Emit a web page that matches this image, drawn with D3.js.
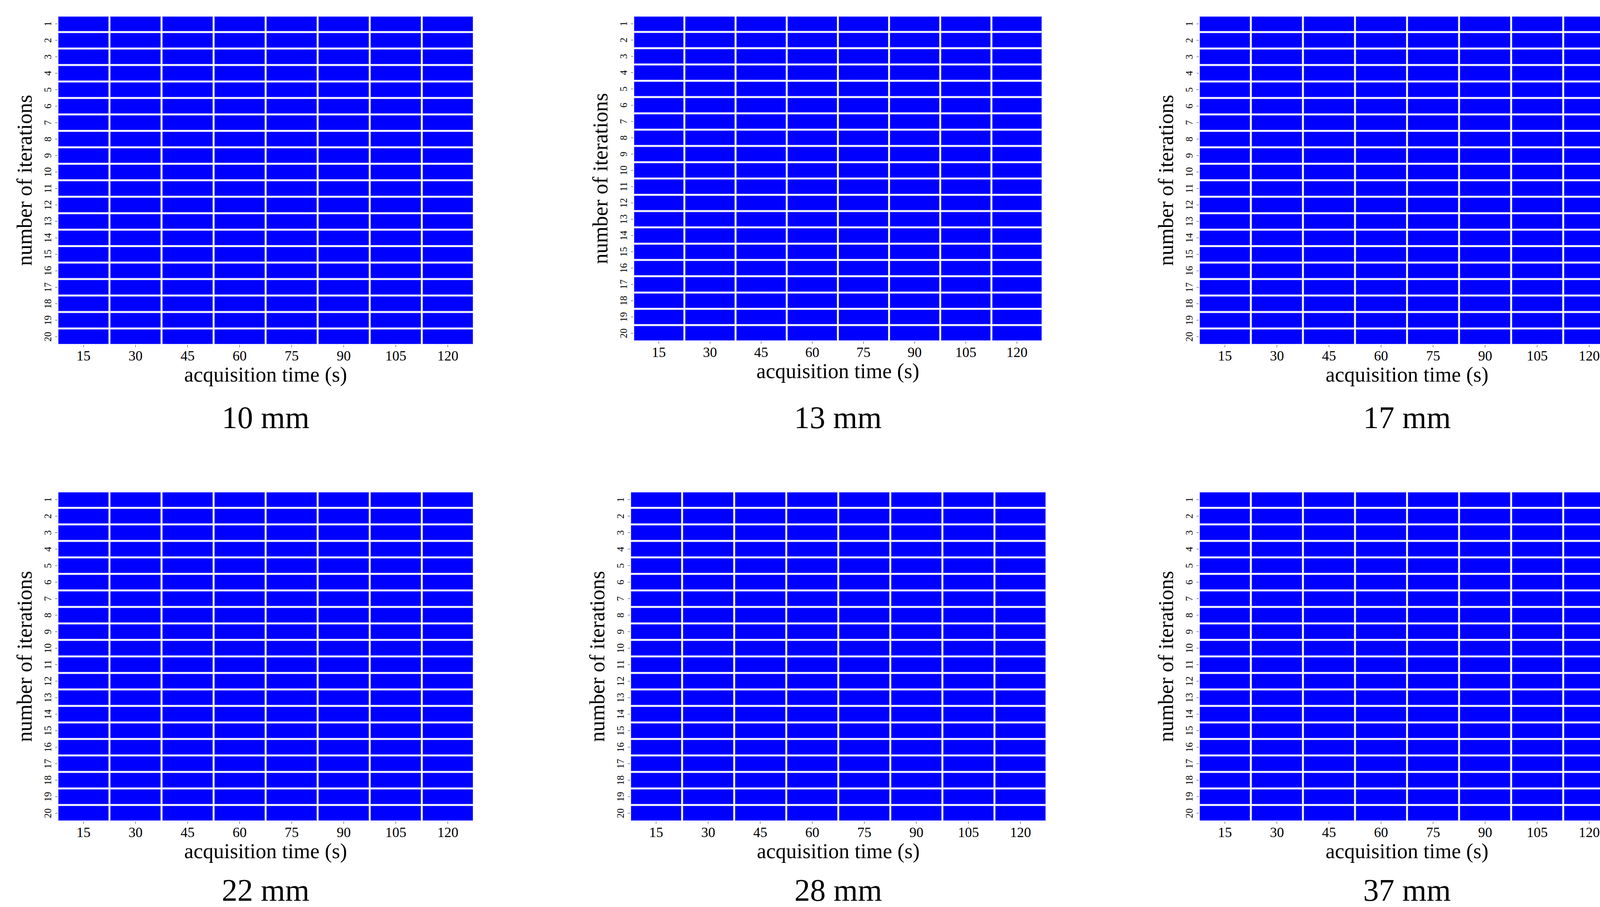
<!DOCTYPE html>
<html lang="en">
<head>
    <meta charset="UTF-8">
    <title>Heatmaps</title>
    <script src="https://d3js.org/d3.v7.min.js"></script>
    <style>
        html, body { margin: 0; padding: 0; background: #fff; overflow: hidden; }
        svg { display: block; }
        text { font-family: "Liberation Serif", "DejaVu Serif", serif; fill: #000; }
    </style>
</head>
<body>
<svg id="chart"></svg>
<script>
    const times = [15, 30, 45, 60, 75, 90, 105, 120];
    const iterations = d3.range(1, 21);
    const panelNames = ["10 mm", "13 mm", "17 mm", "22 mm", "28 mm", "37 mm"];
    // every cell in the reference has the same (saturated) value
    const cellValue = 1;

    // panel boxes [x0, x1, y0, y1]
    const boxes = [
        [147, 1213, 40, 883], [1621, 2669, 40, 874], [3069, 4135, 40, 883],
        [147, 1213, 1258, 2103], [1613, 2679, 1258, 2103], [3069, 4135, 1258, 2103]
    ];

    const svg = d3.select("#chart").attr("width", 4159).attr("height", 2322);
    const color = d3.scaleLinear().domain([0, 1]).range(["#ffffff", "#0000ff"]);

    panelNames.forEach((name, i) => {
        const [x0, x1, y0, y1] = boxes[i];
        const g = svg.append("g");
        const x = d3.scaleBand().domain(times).range([x0, x1]);
        const y = d3.scaleBand().domain(iterations).range([y0, y1]);

        const cells = d3.cross(iterations, times).map(([it, t]) => ({it, t, v: cellValue}));
        g.selectAll("rect").data(cells).join("rect")
            .attr("x", d => x(d.t) + 2.5)
            .attr("y", d => y(d.it) + 2.5)
            .attr("width", x.bandwidth() - 5)
            .attr("height", y.bandwidth() - 5)
            .attr("fill", d => color(d.v))
            .attr("stroke", "#6f6fff")
            .attr("stroke-width", 1);

        // x axis
        const xa = g.append("g").attr("transform", `translate(0,${y1})`)
            .call(d3.axisBottom(x).tickSize(6).tickPadding(8));
        xa.select(".domain").remove();
        xa.selectAll("line").attr("stroke", "#333");
        xa.selectAll("text").style("font-size", "36px")
            .style("font-family", "Liberation Serif");

        // y axis, labels rotated
        const ya = g.append("g").attr("transform", `translate(${x0},0)`)
            .call(d3.axisLeft(y).tickSize(6).tickPadding(0));
        ya.select(".domain").remove();
        ya.selectAll("line").attr("stroke", "#333");
        ya.selectAll("text")
            .attr("x", null).attr("dy", null)
            .attr("text-anchor", "middle")
            .attr("transform", "translate(-16,0) rotate(-90)")
            .style("font-size", "25px")
            .style("font-family", "Liberation Serif");

        const cx = (x0 + x1) / 2;
        g.append("text").attr("x", cx).attr("y", y1 + 94)
            .attr("text-anchor", "middle").style("font-size", "54px")
            .text("acquisition time (s)");
        g.append("text")
            .attr("transform", `translate(${x0 - 66},${(y0 + y1) / 2}) rotate(-90)`)
            .attr("text-anchor", "middle").style("font-size", "54px")
            .text("number of iterations");
        g.append("text").attr("x", cx).attr("y", i < 3 ? 1096 : 2306)
            .attr("text-anchor", "middle").style("font-size", "80px")
            .text(name);
    });
</script>
</body>
</html>
